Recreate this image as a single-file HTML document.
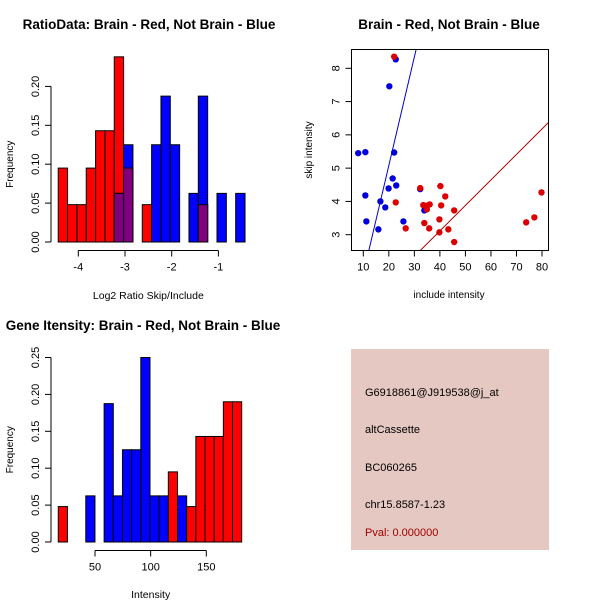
<!DOCTYPE html>
<html><head><meta charset="utf-8"><style>
body{margin:0;background:#fff}
svg{display:block;font-family:"Liberation Sans",sans-serif}
</style></head><body>
<svg id="c" width="600" height="600" viewBox="0 0 600 600">
<g>
<rect x="351" y="349" width="198" height="201" fill="#e5c8c2"/>
<text x="365" y="396" font-size="11">G6918861@J919538@j_at</text>
<text x="365" y="433" font-size="11">altCassette</text>
<text x="365" y="471" font-size="11">BC060265</text>
<text x="365" y="508" font-size="11">chr15.8587-1.23</text>
<text x="365" y="536" font-size="11" fill="#a00000">Pval: 0.000000</text>
</g>
</svg>
<script>
// ---- Histogram 1 data (log2 ratio) ----
const h1Start=-4.43, h1Width=0.2;
const h1Red=[0.095,0.048,0.048,0.095,0.143,0.143,0.238,0.095,0,0.048,0,0,0,0,0,0.048,0,0,0,0];
const h1Blue=[0,0,0,0,0,0,0.0625,0.125,0,0,0.125,0.1875,0.125,0,0.0625,0.1875,0,0.0625,0,0.0625];
const h1XTicks=[-4,-3,-2,-1];
const h1YTicks=[0,0.05,0.10,0.15,0.20];
// ---- Scatter data ----
const blueX=[8.0,10.8,10.8,11.2,15.9,16.7,18.6,20.2,19.9,21.5,22.1,22.7,22.9,25.7,32.3,33.9];
const blueY=[5.45,5.48,4.18,3.40,3.16,4.0,3.82,7.46,4.39,4.69,5.47,8.27,4.48,3.40,4.37,3.73];
const redX=[22.1,22.7,26.6,32.3,33.5,33.9,34.7,34.9,36.0,35.8,39.8,40.2,40.5,39.8,42.1,43.3,45.6,45.6,73.8,77.0,79.8];
const redY=[8.35,3.97,3.19,4.40,3.89,3.35,3.87,3.76,3.91,3.19,3.46,4.46,3.88,3.07,4.15,3.16,3.73,2.78,3.37,3.52,4.27];
const blueFit=[-1.44,0.326]; // intercept, slope
const redFit=[0.05,0.0766];
const scXTicks=[10,20,30,40,50,60,70,80];
const scYTicks=[3,4,5,6,7,8];
// ---- Histogram 2 data (intensity) ----
const h2Start=17, h2Width=8.24;
const h2Red=[0.048,0,0,0,0,0,0,0,0,0,0,0,0.095,0,0.048,0.143,0.143,0.143,0.19,0.19];
const h2Blue=[0,0,0,0.0625,0,0.1875,0.0625,0.125,0.125,0.25,0.0625,0.0625,0,0.0625,0,0,0,0,0,0];
const h2XTicks=[50,100,150];
const h2YTicks=[0,0.05,0.10,0.15,0.20,0.25];

const NS="http://www.w3.org/2000/svg";
const svg=document.getElementById('c');
function mk(tag,attrs,parent,txt){const e=document.createElementNS(NS,tag);for(const k in attrs)e.setAttribute(k,attrs[k]);if(txt!==undefined)e.textContent=txt;(parent||svg).appendChild(e);return e;}
function grp(name){const g=mk('g',{});


return g;}
function txt(g,x,y,s,name,extra){const t=mk('text',Object.assign({x:x,y:y,'font-size':11,'text-anchor':'middle'},extra||{}),g,s);


return t;}
function fmt(v){return v.toFixed(2);}

function hist(name,start,width,red,blue,xs,ys,yTicks,xTicks,xAxisY,yAxisX,title,titleX,titleY,xlab,xlabY){
  const g=grp(name);
  const n=red.length;
  for(let i=0;i<n;i++){
    const x0=xs(start+i*width), x1=xs(start+(i+1)*width);
    const r=red[i], b=blue[i];
    if(r>0){const e=mk('rect',{x:x0,y:ys(r),width:x1-x0,height:ys(0)-ys(r),fill:'#ff0000',stroke:'#000','stroke-width':1},g);
      
      }
    if(b>0){const e=mk('rect',{x:x0,y:ys(b),width:x1-x0,height:ys(0)-ys(b),fill:'#0000ff',stroke:'#000','stroke-width':1},g);
      
      }
    const m=Math.min(r,b);
    if(m>0){const e=mk('rect',{x:x0,y:ys(m),width:x1-x0,height:ys(0)-ys(m),fill:'#800080',stroke:'#000','stroke-width':1},g);
      
      }
  }
  const ya=grp(name+'-y-axis'); g.appendChild(ya);
  mk('line',{x1:yAxisX,x2:yAxisX,y1:ys(yTicks[0]),y2:ys(yTicks[yTicks.length-1]),stroke:'#000'},ya);
  yTicks.forEach(v=>{mk('line',{x1:yAxisX-6,x2:yAxisX,y1:ys(v),y2:ys(v),stroke:'#000'},ya);
    txt(ya,yAxisX-12,ys(v),fmt(v),'y-tick-label',{transform:`rotate(-90 ${yAxisX-12} ${ys(v)})`});});
  const xa=grp(name+'-x-axis'); g.appendChild(xa);
  mk('line',{x1:xs(xTicks[0]),x2:xs(xTicks[xTicks.length-1]),y1:xAxisY,y2:xAxisY,stroke:'#000'},xa);
  xTicks.forEach(v=>{mk('line',{x1:xs(v),x2:xs(v),y1:xAxisY,y2:xAxisY+6,stroke:'#000'},xa);
    txt(xa,xs(v),xAxisY+20,String(v),'x-tick-label');});
  txt(g,titleX,titleY,title,'chart-title',{'font-weight':'bold','font-size':13.5});
  txt(g,xs((xTicks[0]+xTicks[xTicks.length-1])/2),xlabY,xlab,'x-axis-title',{'font-size':10.5});
  const yc=(ys(yTicks[0])+ys(yTicks[yTicks.length-1]))/2;
  txt(g,13,yc,'Frequency','y-axis-title',{transform:`rotate(-90 13 ${yc})`,'font-size':10});
}
const x1s=v=>78.3+(v+4)*46.7, y1s=v=>242-v*778;
hist('ratio-histogram',h1Start,h1Width,h1Red,h1Blue,x1s,y1s,h1YTicks,h1XTicks,250.5,51,'RatioData: Brain - Red, Not Brain - Blue',149,29,'Log2 Ratio Skip/Include',299);
const x2s=v=>95+(v-50)*1.113, y2s=v=>542-v*738;
hist('intensity-histogram',h2Start,h2Width,h2Red,h2Blue,x2s,y2s,h2YTicks,h2XTicks,550.5,51,'Gene Itensity: Brain - Red, Not Brain - Blue',143,330,'Intensity',598);

(function(){
  const g=grp('scatter-plot');
  const L=351.5,R=548.5,T=49.5,B=250.5;
  const xs=v=>363.3+(v-10)*2.553, ys=v=>234.7-(v-3)*33.28;
  const dx0=(L-363.3)/2.553+10, dx1=(R-363.3)/2.553+10;
  const cp=mk('clipPath',{id:'scClip'},g); mk('rect',{x:L,y:T,width:R-L,height:B-T},cp);
  const pts=grp('scatter-points'); g.appendChild(pts); pts.setAttribute('clip-path','url(#scClip)');
  function line(fit,col,name){const e=mk('line',{x1:xs(dx0),y1:ys(fit[0]+fit[1]*dx0),x2:xs(dx1),y2:ys(fit[0]+fit[1]*dx1),stroke:col,'stroke-width':1},pts);
    
    }
  blueX.forEach((x,i)=>{const c=mk('circle',{cx:xs(x),cy:ys(blueY[i]),r:3.2,fill:'#0000dd'},pts);
    
    });
  redX.forEach((x,i)=>{const c=mk('circle',{cx:xs(x),cy:ys(redY[i]),r:3.2,fill:'#dd0000'},pts);
    
    });
  line(blueFit,'#0000cc','blue-fit-line');
  line(redFit,'#aa0000','red-fit-line');
  const fr=mk('rect',{x:L,y:T,width:R-L,height:B-T,fill:'none',stroke:'#000'},g);
  
  
  const xa=grp('scatter-x-axis'); g.appendChild(xa);
  scXTicks.forEach(v=>{mk('line',{x1:xs(v),x2:xs(v),y1:B,y2:B+6,stroke:'#000'},xa);txt(xa,xs(v),B+20,String(v),'x-tick-label');});
  const ya=grp('scatter-y-axis'); g.appendChild(ya);
  scYTicks.forEach(v=>{mk('line',{x1:L-6,x2:L,y1:ys(v),y2:ys(v),stroke:'#000'},ya);txt(ya,L-12,ys(v),String(v),'y-tick-label',{transform:`rotate(-90 ${L-12} ${ys(v)})`});});
  txt(g,449,29,'Brain - Red, Not Brain - Blue','chart-title',{'font-weight':'bold','font-size':13.5});
  txt(g,449,298,'include intensity','x-axis-title',{'font-size':10});
  txt(g,312,150,'skip intensity','y-axis-title',{transform:'rotate(-90 312 150)','font-size':10});
})();
</script>
</body></html>
